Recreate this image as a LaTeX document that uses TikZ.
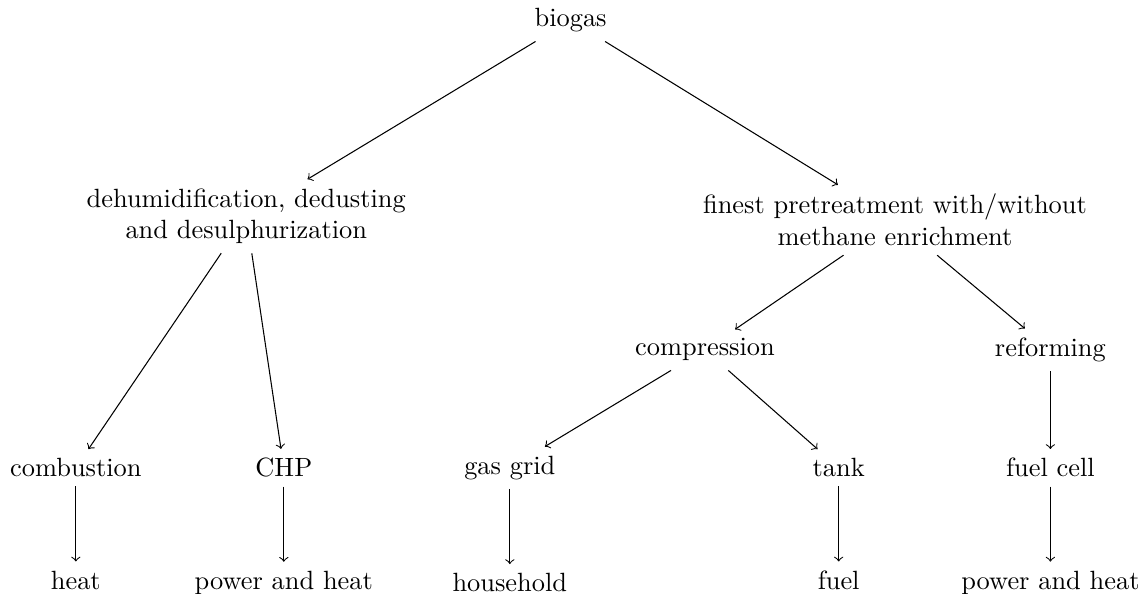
\documentclass[tikz,border=0pt]{standalone}
\usetikzlibrary{positioning}

\begin{document}
\begin{tikzpicture}[
    node distance=1cm,
    stage/.style={align=center},
    arrow/.style={->},
]
\useasboundingbox (0,0) rectangle (15.25,-7.91);
\node[stage] (bio) at (7.60,-0.27) {biogas};
\node[stage] (dds) at (3.28,-2.88) {dehumidification, dedusting\\and desulphurization};
\node[stage] (fin) at (11.92,-2.93) {finest pretreatment with/without\\methane enrichment};
\node[stage] (comp) at (9.39,-4.66) {compression};
\node[stage] (ref) at (13.99,-4.66) {reforming};
\node[stage] (comb) at (1.01,-6.23) {combustion};
\node[stage] (chp) at (3.78,-6.23) {CHP};
\node[stage] (grid) at (6.79,-6.23) {gas grid};
\node[stage] (tank) at (11.17,-6.23) {tank};
\node[stage] (fc) at (13.99,-6.23) {fuel cell};
\node[stage, below=of comb] (heat) {heat};
\node[stage, below=of chp] (pwr1) {power and heat};
\node[stage, below=of grid] (home) {household};
\node[stage, below=of tank] (fuel) {fuel};
\node[stage, below=of fc] (pwr2) {power and heat};

\draw[arrow] (bio) -- (dds);
\draw[arrow] (bio) -- (fin);
\draw[arrow] (dds) -- (comb);
\draw[arrow] (dds) -- (chp);
\draw[arrow] (fin) -- (comp);
\draw[arrow] (fin) -- (ref);
\draw[arrow] (comp) -- (grid);
\draw[arrow] (comp) -- (tank);
\draw[arrow] (ref) -- (fc);
\draw[arrow] (comb) -- (heat);
\draw[arrow] (chp) -- (pwr1);
\draw[arrow] (grid) -- (home);
\draw[arrow] (tank) -- (fuel);
\draw[arrow] (fc) -- (pwr2);
\end{tikzpicture}
\end{document}
